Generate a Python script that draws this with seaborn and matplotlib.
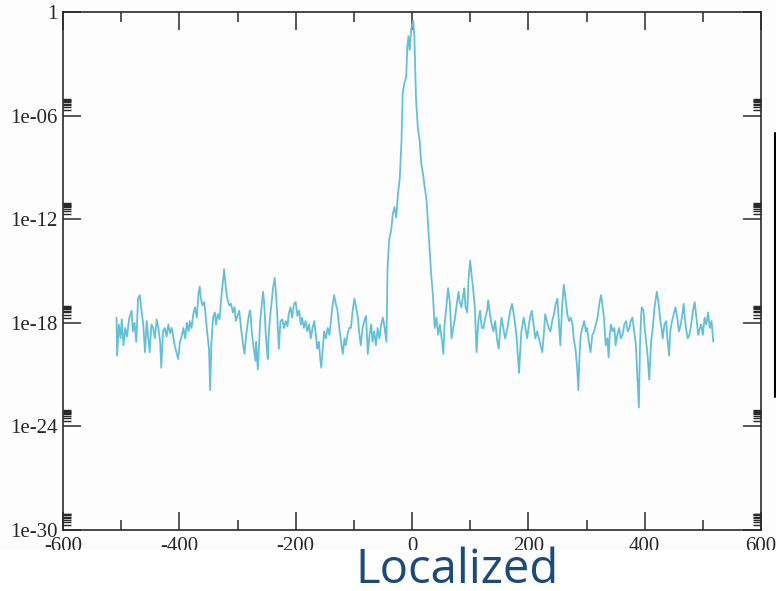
import numpy as np
import pandas as pd
import matplotlib
matplotlib.use("Agg")
import matplotlib.pyplot as plt
import seaborn as sns
from matplotlib.ticker import FixedLocator, FixedFormatter, MultipleLocator
from matplotlib.patches import Rectangle
from matplotlib.lines import Line2D

# values: x position and log10 of the amplitude
x_left = [-508, -507, -504, -501, -499, -496, -493, -490, -486, -482, -480, -477, -474, -471, -468,
          -465, -462, -459, -456, -454, -451, -448, -445, -442, -439, -436, -433, -431, -428, -425,
          -422, -419, -416, -413, -410, -408, -405, -402, -399, -396, -393, -390, -387, -384, -382,
          -379, -376, -373, -370, -367, -365, -363, -360, -357, -354, -352, -349, -347, -345, -342,
          -339, -337, -334, -331, -328, -325, -323, -320, -317, -314, -311, -308, -305, -303, -300,
          -297, -294, -291, -288, -285, -282, -279]
exp_left = [-17.7, -19.9, -18.1, -18.9, -17.8, -19.3, -18.3, -18.8, -17.7, -17.3, -18.5, -18.0, -19.1, -16.6, -16.4,
            -17.3, -18.1, -19.7, -17.9, -18.7, -19.7, -18.1, -18.3, -18.9, -17.8, -18.3, -19.1, -20.6, -18.5, -18.3,
            -18.8, -18.1, -18.6, -18.3, -18.9, -19.3, -19.7, -20.1, -19.1, -18.8, -18.3, -18.9, -18.0, -18.5, -17.9,
            -18.3, -17.5, -17.1, -17.7, -16.3, -15.9, -16.6, -17.0, -16.8, -17.9, -18.6, -19.5, -21.9, -19.3, -17.7,
            -17.4, -18.1, -17.5, -17.8, -16.6, -15.6, -14.9, -16.0, -16.7, -17.0, -16.9, -17.4, -17.1, -17.9, -17.6,
            -17.3, -18.3, -19.1, -19.8, -18.7, -17.9, -17.3]

x_mid_left = [-278, -275, -272, -269, -268, -265, -263, -261, -258, -256, -254, -252, -250, -248, -246,
              -243, -241, -239, -236, -234, -232, -229, -226, -223, -220, -217, -214, -212, -209, -206,
              -203, -200, -197, -194, -191, -189, -186, -183, -180, -177, -174, -171, -168, -165, -163,
              -160, -158, -156, -153, -151, -148, -145, -142, -140, -137, -134, -131, -128, -125, -122,
              -119, -116, -114, -111, -108, -105, -102, -99, -96, -93, -91, -88, -85, -82, -79,
              -76, -73, -70, -68, -65, -62, -59, -56, -53, -50, -47, -44]
exp_mid_left = [-17.3, -18.7, -19.5, -20.2, -19.1, -20.7, -19.3, -17.9, -16.9, -16.2, -16.9, -18.3, -19.3, -20.1, -18.5,
                -17.3, -16.7, -16.0, -15.4, -16.2, -17.3, -19.5, -17.9, -17.8, -18.3, -17.9, -18.2, -17.5, -17.1, -17.7,
                -16.9, -16.8, -17.6, -17.3, -18.1, -17.7, -18.3, -17.9, -18.5, -18.1, -18.9, -18.3, -17.9, -18.8, -19.5,
                -19.1, -20.0, -20.6, -19.3, -18.5, -18.9, -18.3, -18.7, -18.1, -17.1, -16.4, -16.9, -17.3, -18.3, -19.1,
                -19.8, -18.9, -19.3, -18.7, -18.3, -18.3, -17.3, -16.6, -17.1, -17.7, -18.5, -19.3, -18.3, -17.9, -17.6,
                -19.8, -18.7, -18.1, -19.1, -18.5, -19.3, -18.3, -18.9, -18.1, -17.7, -18.3, -19.1]

x_peak = [-42, -39, -36, -33, -30, -27, -24, -21, -18, -16, -13, -10, -8, -6, -4,
          -1, 2, 4, 7, 10, 13, 16, 19, 22, 25, 28, 30, 33, 36]
exp_peak = [-14.8, -13.1, -12.7, -11.7, -11.3, -11.9, -10.5, -9.6, -7.4, -4.7, -4.1, -3.8, -2.0, -1.4, -2.2,
            -0.9, -0.5, -1.4, -5.1, -6.7, -7.4, -8.8, -9.4, -10.2, -10.9, -12.5, -13.6, -15.2, -16.4]

x_mid_right = [39, 42, 45, 48, 51, 54, 56, 59, 62, 65, 68, 71, 74, 77, 80,
               82, 85, 88, 90, 92, 95, 97, 100, 103, 105, 108, 111, 114, 117, 120,
               123, 126, 129, 131, 134, 137, 140, 143, 146, 149, 152, 154, 157, 160, 163,
               166, 169, 172, 175, 178, 180, 184, 188, 192, 195, 198, 201, 203, 206, 209,
               212, 215, 218, 221, 224, 227, 229, 232, 235, 238, 241, 244, 247, 250, 252,
               255, 258, 261, 264, 267]
exp_mid_right = [-18.3, -17.7, -18.7, -18.1, -18.9, -19.8, -18.1, -17.1, -16.0, -16.8, -18.9, -18.3, -17.7, -16.9, -16.2,
                 -16.8, -17.1, -16.4, -16.0, -17.1, -17.4, -15.6, -14.4, -15.4, -16.0, -17.1, -19.7, -17.9, -17.3, -18.3,
                 -18.3, -17.7, -17.3, -16.7, -17.5, -18.1, -18.5, -17.9, -18.9, -19.5, -18.3, -17.7, -18.3, -18.9, -18.5,
                 -17.9, -17.3, -16.9, -17.5, -18.3, -18.9, -20.9, -18.5, -17.7, -18.3, -18.9, -18.1, -17.7, -17.3, -18.1,
                 -18.9, -18.5, -18.9, -19.3, -19.7, -18.5, -17.5, -17.9, -18.3, -18.5, -17.9, -17.5, -16.9, -16.6, -17.7,
                 -19.3, -17.1, -15.8, -16.6, -17.5]

x_right = [270, 273, 276, 278, 281, 284, 286, 288, 290, 293, 296, 299, 301, 304, 307,
           310, 313, 316, 319, 322, 325, 327, 330, 333, 336, 338, 340, 342, 345, 348,
           350, 353, 356, 359, 362, 365, 368, 371, 374, 376, 379, 382, 385, 387, 390,
           392, 394, 395, 398, 400, 402, 405, 408, 411, 414, 417, 421, 424, 427, 429,
           431, 434, 437, 439, 442, 444, 447, 450, 453, 456, 459, 462, 465, 467, 469,
           471, 474, 477, 480, 483, 486, 489, 492, 495, 497, 500, 503, 506, 509, 512,
           515, 518]
exp_right = [-17.9, -17.7, -18.1, -18.9, -19.5, -20.6, -21.9, -19.9, -18.7, -18.3, -17.9, -18.5, -18.3, -19.1, -19.7,
             -18.7, -18.5, -18.1, -17.7, -16.9, -16.4, -16.9, -17.7, -19.3, -18.9, -20.0, -18.7, -18.1, -18.5, -18.3,
             -19.3, -18.7, -18.3, -18.9, -18.7, -18.1, -17.9, -18.5, -18.3, -17.9, -17.7, -18.5, -19.3, -20.8, -22.9,
             -19.3, -17.5, -17.1, -17.3, -18.3, -18.9, -19.9, -21.3, -19.1, -18.3, -17.1, -16.2, -16.9, -17.9, -18.3,
             -18.9, -18.1, -17.9, -18.9, -19.9, -18.5, -17.9, -17.5, -17.1, -17.7, -18.5, -18.1, -17.5, -16.9, -17.7,
             -18.3, -18.9, -18.7, -18.1, -17.3, -16.8, -17.7, -18.7, -18.3, -18.1, -18.7, -17.7, -18.1, -17.4, -18.3,
             -17.9, -19.1]

y_tick_exps = [-30, -24, -18, -12, -6, 0]
y_tick_labels = ["1e-30", "1e-24", "1e-18", "1e-12", "1e-06", "1"]
x_ticks = [-600, -400, -200, 0, 200, 400, 600]
caption = "Localized"

xs = x_left + x_mid_left + x_peak + x_mid_right + x_right
exps = exp_left + exp_mid_left + exp_peak + exp_mid_right + exp_right
df = pd.DataFrame({"x": xs, "amp": 10.0 ** np.array(exps)})

W, H = 776, 591
bg = "#fdfdfd"
sns.set_style("ticks")
plt.rcParams["font.family"] = ["Liberation Serif", "DejaVu Serif"]
plt.rcParams["axes.unicode_minus"] = False

fig = plt.figure(figsize=(W / 100, H / 100), dpi=100, facecolor=bg)
ax = fig.add_axes([63 / W, 1 - 530 / H, 698 / W, 518 / H])
ax.set_facecolor(bg)

sns.lineplot(data=df, x="x", y="amp", ax=ax, color="#62c1d9", linewidth=1.3,
             estimator=None, sort=False)

ax.set_yscale("log")
ax.set_xlim(-600, 600)
ax.set_ylim(1e-30, 1)
ax.set_xlabel("")
ax.set_ylabel("")

ax.xaxis.set_major_locator(FixedLocator(x_ticks))
ax.xaxis.set_minor_locator(MultipleLocator(100))
ax.yaxis.set_major_locator(FixedLocator([10.0 ** e for e in y_tick_exps]))
ax.yaxis.set_major_formatter(FixedFormatter(y_tick_labels))
minor_y = [k * 10.0 ** e for e in y_tick_exps[:-1] for k in range(2, 10)]
ax.yaxis.set_minor_locator(FixedLocator(minor_y))
ax.yaxis.set_minor_formatter(FixedFormatter([""] * len(minor_y)))

for s in ax.spines.values():
    s.set_linewidth(1.2)
    s.set_color("#2a2a2a")

ax.tick_params(which="both", direction="in", top=True, right=True, color="#2a2a2a")
ax.tick_params(which="major", length=13, width=1.1, labelsize=15)
ax.tick_params(axis="x", which="major", pad=5)
ax.tick_params(axis="y", which="major", pad=4)
ax.tick_params(axis="x", which="minor", length=7, width=1.1)
ax.tick_params(axis="y", which="minor", length=6, width=1.0)

# slide overlay: the scan is cut below the tick labels
fig.patches.append(Rectangle((0, 0), 1, (H - 550) / H, transform=fig.transFigure,
                             facecolor="white", edgecolor="none", zorder=5))
fig.lines.append(Line2D([774.5 / W, 774.5 / W], [1 - 133 / H, 1 - 397 / H],
                        transform=fig.transFigure, color="black", linewidth=1.5, zorder=6))
fig.text(457 / W, 1 - 583 / H, caption, ha="center", va="baseline", fontsize=34,
         family=["Open Sans", "DejaVu Sans"], color="#1b4a7c", zorder=7)

fig.savefig("out.png", dpi=100, facecolor=bg)
